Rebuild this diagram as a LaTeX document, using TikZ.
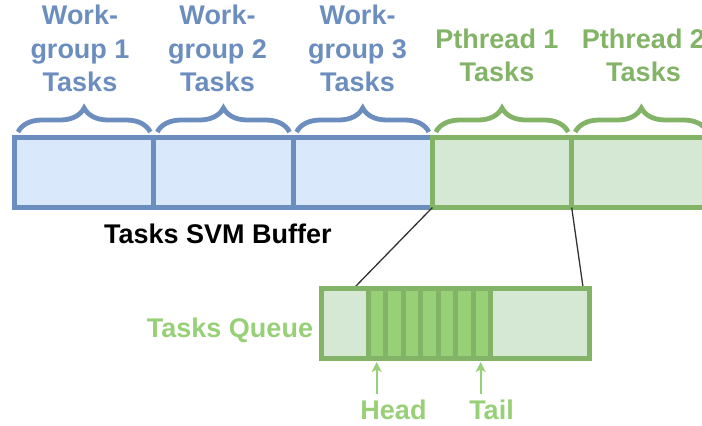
\documentclass[tikz,border=0pt]{standalone}
\usepackage{fontspec}
\setmainfont{Liberation Sans}
\usetikzlibrary{decorations.pathreplacing,arrows.meta}
\definecolor{blueline}{HTML}{6C8EBF}
\definecolor{bluefill}{HTML}{DAE8FC}
\definecolor{greenline}{HTML}{82B366}
\definecolor{greenfill}{HTML}{D5E8D4}
\definecolor{greenslot}{HTML}{97D077}
\definecolor{linkgray}{HTML}{333333}

\begin{document}
\begin{tikzpicture}[x=1pt,y=-1pt,
  cell/.style={draw, line width=5pt, minimum width=139.3pt, minimum height=70pt,
    inner sep=0pt, outer sep=0pt},
  bluecell/.style={cell, draw=blueline, fill=bluefill},
  greencell/.style={cell, draw=greenline, fill=greenfill},
  bracket/.style={decorate, decoration={brace, amplitude=24pt}, line width=4.8pt},
  bigtext/.style={font=\fontsize{27}{33.5}\selectfont\bfseries, inner sep=0pt},
  lbl/.style={bigtext, align=center, anchor=south},
  link/.style={draw=linkgray, line width=1.3pt},
  pointer/.style={draw=greenslot, line width=1.6pt, -{Stealth[length=10pt,width=10pt,inset=2.5pt]}},
]
\useasboundingbox (0,0) rectangle (702,426);

% links from the first pthread block down to its queue
\coordinate (qa) at (355,287);
\coordinate (qb) at (583,287);

% the shared tasks buffer
\node[bluecell] (w1) at (84.15,172.5) {};
\node[bluecell] (w2) at (223.45,172.5) {};
\node[bluecell] (w3) at (362.75,172.5) {};
\node[greencell] (p1) at (502.05,172.5) {};
\node[greencell] (p2) at (641.35,172.5) {};

\draw[link] (p1.south west) -- (qa);
\draw[link] (p1.south east) -- (qb);

% braces over each block
\foreach \c/\col in {w1/blueline,w2/blueline,w3/blueline,p1/greenline,p2/greenline}{
  \draw[bracket, \col] ([xshift=3.5pt,yshift=5.5pt]\c.north west)
    -- ([xshift=-3.5pt,yshift=5.5pt]\c.north east);
}

% block labels
\node[lbl, text=blueline] (lw1) at (80,92) {Work-\\group 1\\Tasks};
\node[lbl, text=blueline] (lw2) at (217.5,92) {Work-\\group 2\\Tasks};
\node[lbl, text=blueline] (lw3) at (357.5,92) {Work-\\group 3\\Tasks};
\node[lbl, text=greenline] (lp1) at (497,82) {Pthread 1\\Tasks};
\node[lbl, text=greenline] (lp2) at (643.5,82) {Pthread 2\\Tasks};

\node[bigtext, anchor=base west] (svm) at (104,243) {Tasks SVM Buffer};

% the task queue of one pthread
\node[draw=greenline, fill=greenfill, line width=5pt, minimum width=268pt,
  minimum height=70pt, inner sep=0pt, outer sep=0pt] (q) at (455.5,323.5) {};
\node[fill=greenslot, minimum width=122.5pt, minimum height=65pt,
  inner sep=0pt, outer sep=0pt] (slots) at (429.55,323.5) {};
\foreach \i in {0,...,7}{
  \draw[greenline, line width=5pt] (368.3+17.5*\i,291) -- (368.3+17.5*\i,356);
}

\node[bigtext, text=greenslot, anchor=base] (tq) at (230,337) {Tasks Queue};

% head and tail pointers
\node[bigtext, text=greenslot, anchor=base] (head) at (393.5,419) {Head};
\node[bigtext, text=greenslot, anchor=base] (tail) at (491.5,419) {Tail};
\coordinate (hs) at (376.7,394);
\coordinate (he) at (376.7,362);
\coordinate (ts) at (480.7,394);
\coordinate (te) at (480.7,362);
\draw[pointer] (hs) -- (he);
\draw[pointer] (ts) -- (te);
\end{tikzpicture}
\end{document}
